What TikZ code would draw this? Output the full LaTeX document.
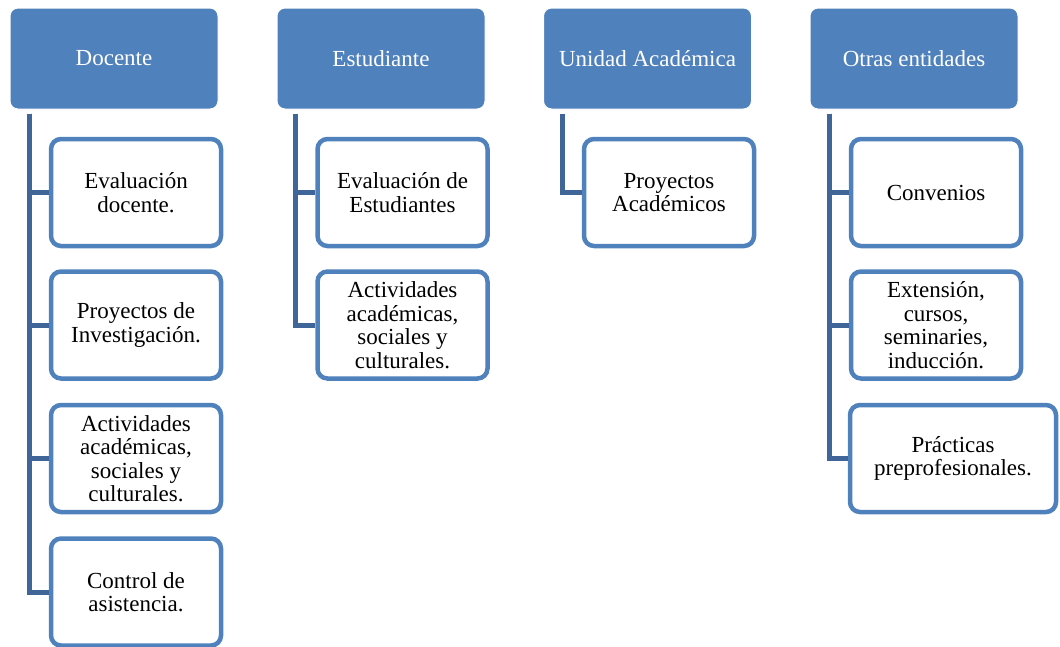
\documentclass[tikz,border=0pt]{standalone}
\usepackage{fontspec}
\setmainfont{Liberation Serif}
\definecolor{hdrblue}{RGB}{79,129,189}
\definecolor{linkblue}{RGB}{64,102,153}
\tikzset{
  hdr/.style={draw=white, line width=1pt, fill=hdrblue, rounded corners=8pt,
    minimum width=208pt, minimum height=101pt, text=white, align=center,
    inner sep=2pt, font=\fontsize{23}{23.5}\selectfont},
  child/.style={draw=hdrblue, line width=4.5pt, fill=white, rounded corners=10pt,
    minimum width=170pt, minimum height=107pt, text=black, align=center,
    inner sep=2pt, font=\fontsize{23}{23.5}\selectfont},
  conn/.style={draw=linkblue, line width=5pt}
}
\begin{document}
\begin{tikzpicture}[x=1pt,y=-1pt]
\useasboundingbox (0,0) rectangle (1060,646);
% Docente
\node[hdr] (d0) at (114,58.5) {Docente};
\node[child] (d1) at (136,192.5) {Evaluación\\docente.};
\node[child] (d2) at (136,325) {Proyectos de\\Investigación.};
\node[child] (d3) at (136,458.5) {Actividades\\académicas,\\sociales y\\culturales.};
\node[child] (d4) at (136,592) {Control de\\asistencia.};
\coordinate (dt) at ([xshift=20pt,yshift=-4pt]d0.south west);
\foreach \c in {d1,d2,d3,d4} \draw[conn] (dt) |- (\c.west);
% Estudiante
\node[hdr] (e0) at (381,58.5) {Estudiante};
\node[child] (e1) at (402.5,192.5) {Evaluación de\\Estudiantes};
\node[child] (e2) at (402.5,325) {Actividades\\académicas,\\sociales y\\culturales.};
\coordinate (et) at ([xshift=19pt,yshift=-4pt]e0.south west);
\foreach \c in {e1,e2} \draw[conn] (et) |- (\c.west);
% Unidad Academica
\node[hdr] (u0) at (647.5,58.5) {Unidad Académica};
\node[child] (u1) at (669,192.5) {Proyectos\\Académicos};
\coordinate (ut) at ([xshift=19.5pt,yshift=-4pt]u0.south west);
\draw[conn] (ut) |- (u1.west);
% Otras entidades
\node[hdr] (o0) at (914,58.5) {Otras entidades};
\node[child] (o1) at (936,192.5) {Convenios};
\node[child] (o2) at (936,325) {Extensión,\\cursos,\\seminaries,\\inducción.};
\node[child, minimum width=206pt] (o3) at (953,458.5) {Prácticas\\preprofesionales.};
\coordinate (ot) at ([xshift=19.5pt,yshift=-4pt]o0.south west);
\foreach \c in {o1,o2,o3} \draw[conn] (ot) |- (\c.west);
\end{tikzpicture}
\end{document}
